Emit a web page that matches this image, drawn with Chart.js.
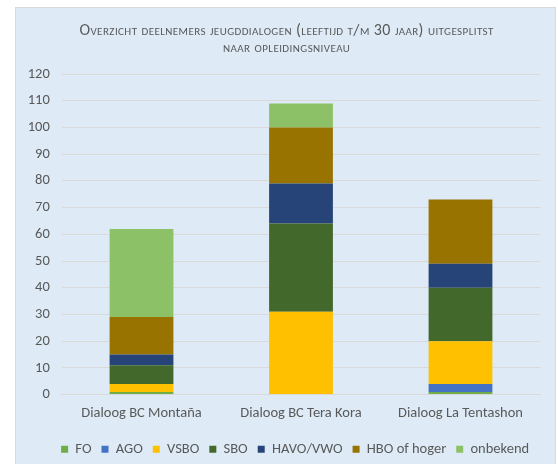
<!DOCTYPE html>
<html>
<head>
<meta charset="utf-8">
<script src="https://cdn.jsdelivr.net/npm/chart.js@4.4.1/dist/chart.umd.min.js"></script>
<style>
html,body{margin:0;padding:0;background:#fff;}
#wrap{position:relative;width:558px;height:464px;}
</style>
</head>
<body>
<div id="wrap"><canvas id="c" width="558" height="464"></canvas></div>
<script>
const categories = ['Dialoog BC Montaña', 'Dialoog BC Tera Kora', 'Dialoog La Tentashon'];
const seriesNames = ['FO', 'AGO', 'VSBO', 'SBO', 'HAVO/VWO', 'HBO of hoger', 'onbekend'];
const FO = [1, 0, 1];
const AGO = [0, 0, 3];
const VSBO = [3, 31, 16];
const SBO = [7, 33, 20];
const HAVO_VWO = [4, 15, 9];
const HBO = [14, 21, 24];
const onbekend = [33, 9, 0];
const yTicks = [0, 10, 20, 30, 40, 50, 60, 70, 80, 90, 100, 110, 120];
const titleLines = ['Overzicht deelnemers jeugddialogen (leeftijd t/m 30 jaar) uitgesplitst', 'naar opleidingsniveau'];

const colors = ['#70AD47', '#4472C4', '#FFC000', '#43682B', '#264478', '#997300', '#8CC168'];
const values = [FO, AGO, VSBO, SBO, HAVO_VWO, HBO, onbekend];

const FONT = 'Carlito, Calibri, Lato, sans-serif';
const FS = 14.5;

const bgPlugin = {
  id: 'bg',
  afterLayout(chart) {
    if (chart.legend) { chart.legend.left += 25; chart.legend.right += 25; }
    if (chart.titleBlock) { chart.titleBlock.left += 16.5; chart.titleBlock.right += 16.5; }
  },
  beforeDraw(chart) {
    const ctx = chart.ctx;
    const tb = chart.titleBlock;
    if (tb && !tb._spaced) {
      const orig = tb.draw.bind(tb);
      tb.draw = function (area) {
        const prev = ctx.letterSpacing;
        ctx.letterSpacing = '0.42px';
        orig(area);
        ctx.letterSpacing = prev || '0px';
      };
      tb._spaced = true;
    }
    ctx.save();
    ctx.fillStyle = '#ffffff';
    ctx.fillRect(0, 0, chart.width, chart.height);
    ctx.fillStyle = '#DEEBF7';
    ctx.fillRect(15, 7, 541, 470);
    ctx.strokeStyle = '#D9D9D9';
    ctx.lineWidth = 1;
    ctx.strokeRect(15.5, 7.5, 540, 470);
    ctx.restore();
  }
};

new Chart(document.getElementById('c'), {
  type: 'bar',
  data: {
    labels: categories,
    datasets: seriesNames.map((n, i) => ({
      label: n,
      data: values[i],
      backgroundColor: colors[i],
      borderWidth: 0,
      barPercentage: 0.4,
      categoryPercentage: 1.0
    }))
  },
  options: {
    responsive: false,
    animation: false,
    devicePixelRatio: 1,
    layout: { padding: { left: 0, right: 17.75, top: 0, bottom: -2.5 } },
    plugins: {
      title: {
        display: true,
        text: titleLines,
        color: '#595959',
        font: { family: FONT, size: 16, weight: 'small-caps', lineHeight: 1.044 },
        padding: { top: 23, bottom: 17.6 }
      },
      legend: {
        position: 'bottom',
        labels: {
          boxWidth: 7,
          boxHeight: 7,
          color: '#595959',
          font: { family: FONT, size: FS, lineHeight: 1 },
          padding: 10
        }
      },
      tooltip: { enabled: false }
    },
    scales: {
      x: {
        stacked: true,
        grid: { display: false, drawTicks: false },
        border: { display: true, color: '#D9D9D9' },
        ticks: { color: '#595959', font: { family: FONT, size: FS }, padding: 10 }
      },
      y: {
        stacked: true,
        min: 0,
        max: 120,
        afterBuildTicks(scale) { scale.ticks = yTicks.map(v => ({ value: v })); },
        afterFit(scale) { scale.width = 61.75; },
        grid: { color: '#D9D9D9', drawTicks: false },
        border: { display: false },
        ticks: { color: '#595959', font: { family: FONT, size: FS }, padding: 12 }
      }
    }
  },
  plugins: [bgPlugin]
});
</script>
</body>
</html>
